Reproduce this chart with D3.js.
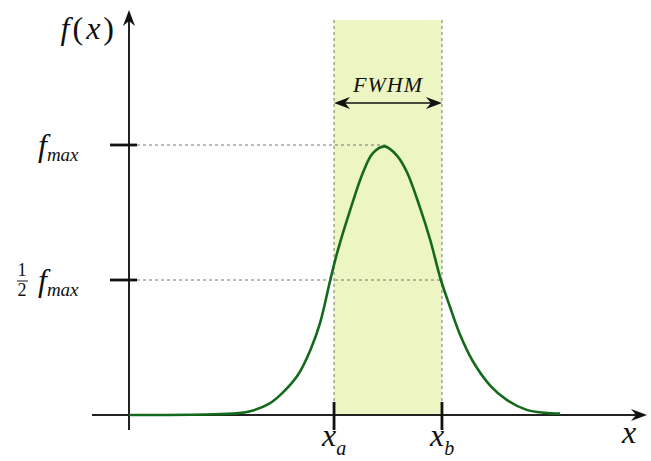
<!DOCTYPE html>
<html>
<head>
<meta charset="utf-8">
<script src="https://cdn.jsdelivr.net/npm/d3@7"></script>
<style>
  body { margin: 0; background: #fff; }
</style>
</head>
<body>
<div id="chart"></div>
<script>
// curve (peak normalised to 1, x_a = -1, x_b = 1)
var curveX = [-4.8, -3.4, -2.8, -2.5, -2.2, -1.96, -1.67, -1.44, -1.26, -1.07, -0.93, -0.70, -0.46, -0.28, -0.06, 0.17, 0.35, 0.59, 0.78, 0.98, 1.15, 1.33, 1.57, 1.89, 2.2, 2.57, 2.9, 3.19];
var curveY = [0.0, 0.002, 0.006, 0.017, 0.042, 0.081, 0.148, 0.24, 0.34, 0.50, 0.61, 0.76, 0.90, 0.97, 0.995, 0.96, 0.90, 0.77, 0.65, 0.50, 0.40, 0.30, 0.20, 0.11, 0.056, 0.019, 0.008, 0.005];
var xTicks = [-1, 1];
var xTickSubs = ['a', 'b'];
var yTicks = [1, 0.5];

var width = 651, height = 461;
var serif = 'Liberation Serif';
var x = d3.scaleLinear().domain([-4.8, 4.8]).range([129, 647]);
var y = d3.scaleLinear().domain([0, 1.5]).range([415, 10]);

var svg = d3.select('#chart').append('svg')
    .attr('width', width)
    .attr('height', height);

// FWHM band
svg.append('rect')
    .attr('x', x(xTicks[0]))
    .attr('y', 20)
    .attr('width', x(xTicks[1]) - x(xTicks[0]))
    .attr('height', y(0) - 20)
    .attr('fill', '#edf5c2');

// dashed guides
xTicks.forEach(function(d) {
    svg.append('line')
        .attr('x1', x(d)).attr('x2', x(d))
        .attr('y1', 20).attr('y2', y(0))
        .attr('stroke', '#777').attr('stroke-width', 1)
        .attr('stroke-dasharray', '3,3');
});
svg.append('line')
    .attr('x1', x(-4.8) + 8).attr('x2', x(0))
    .attr('y1', y(yTicks[0])).attr('y2', y(yTicks[0]))
    .attr('stroke', '#777').attr('stroke-width', 1)
    .attr('stroke-dasharray', '3,3');
svg.append('line')
    .attr('x1', x(-4.8) + 8).attr('x2', x(xTicks[1]))
    .attr('y1', y(yTicks[1])).attr('y2', y(yTicks[1]))
    .attr('stroke', '#777').attr('stroke-width', 1)
    .attr('stroke-dasharray', '3,3');

// axes
svg.append('line')
    .attr('x1', 92).attr('x2', x(4.8) - 6)
    .attr('y1', y(0)).attr('y2', y(0))
    .attr('stroke', '#222').attr('stroke-width', 2);
svg.append('line')
    .attr('x1', x(-4.8)).attr('x2', x(-4.8))
    .attr('y1', 430).attr('y2', y(1.5) + 6)
    .attr('stroke', '#222').attr('stroke-width', 2);

function arrowHead(px, py, angle) {
    svg.append('path')
        .attr('d', 'M0,0 L-16,-6 L-11,0 L-16,6 Z')
        .attr('fill', '#111')
        .attr('transform', 'translate(' + px + ',' + py + ') rotate(' + angle + ')');
}
arrowHead(x(4.8), y(0), 0);
arrowHead(x(-4.8), y(1.5), -90);

// ticks
xTicks.forEach(function(d) {
    svg.append('line')
        .attr('x1', x(d)).attr('x2', x(d))
        .attr('y1', 402).attr('y2', 430)
        .attr('stroke', '#111').attr('stroke-width', 2.8);
});
yTicks.forEach(function(d) {
    svg.append('line')
        .attr('x1', 110).attr('x2', 137)
        .attr('y1', y(d)).attr('y2', y(d))
        .attr('stroke', '#111').attr('stroke-width', 2.8);
});

// curve
var pts = curveX.map(function(v, i) { return [v, curveY[i]]; });
var line = d3.line()
    .x(function(d) { return x(d[0]); })
    .y(function(d) { return y(d[1]); })
    .curve(d3.curveCatmullRom.alpha(0.5));
svg.append('path')
    .datum(pts)
    .attr('fill', 'none')
    .attr('stroke', '#146a1c')
    .attr('stroke-width', 2.6)
    .attr('stroke-linejoin', 'round')
    .attr('d', line);

function label(px, py, size, italic) {
    return svg.append('text')
        .attr('x', px).attr('y', py)
        .style('font-family', serif)
        .style('font-size', size + 'px')
        .style('font-style', italic ? 'italic' : 'normal')
        .attr('fill', '#111');
}

// FWHM arrow
var fy = 103;
svg.append('line')
    .attr('x1', x(xTicks[0]) + 6).attr('x2', x(xTicks[1]) - 6)
    .attr('y1', fy).attr('y2', fy)
    .attr('stroke', '#111').attr('stroke-width', 1.5);
arrowHead(x(xTicks[1]), fy, 0);
arrowHead(x(xTicks[0]), fy, 180);
label((x(xTicks[0]) + x(xTicks[1])) / 2, 92, 22, true)
    .attr('text-anchor', 'middle')
    .style('letter-spacing', '1px')
    .text('FWHM');

// y axis title f(x)
var fx = label(117, 39, 32, false)
    .attr('text-anchor', 'end')
    .style('letter-spacing', '3px');
fx.append('tspan').style('font-style', 'italic').text('f');
fx.append('tspan').text('(');
fx.append('tspan').style('font-style', 'italic').text('x');
fx.append('tspan').text(')');

// x axis title
label(629, 443, 32, true).attr('text-anchor', 'middle').text('x');

// x tick labels
xTicks.forEach(function(d, i) {
    var t = label(x(d) - 12, 446, 32, true);
    t.append('tspan').text('x');
    t.append('tspan').attr('dy', 9).style('font-size', '20px').text(xTickSubs[i]);
});

// y tick labels
function fmax(px, py) {
    var t = label(px, py, 32, true);
    t.append('tspan').text('f');
    t.append('tspan').attr('dy', 5).style('font-size', '19px').text('max');
}
fmax(38, y(yTicks[0]) + 11);
fmax(38, y(yTicks[1]) + 11);
// 1/2 fraction
label(22, y(yTicks[1]) - 4, 18, false).attr('text-anchor', 'middle').text('1');
svg.append('line')
    .attr('x1', 17).attr('x2', 28)
    .attr('y1', y(yTicks[1]) + 1).attr('y2', y(yTicks[1]) + 1)
    .attr('stroke', '#111').attr('stroke-width', 1);
label(22, y(yTicks[1]) + 16, 18, false).attr('text-anchor', 'middle').text('2');
</script>
</body>
</html>
